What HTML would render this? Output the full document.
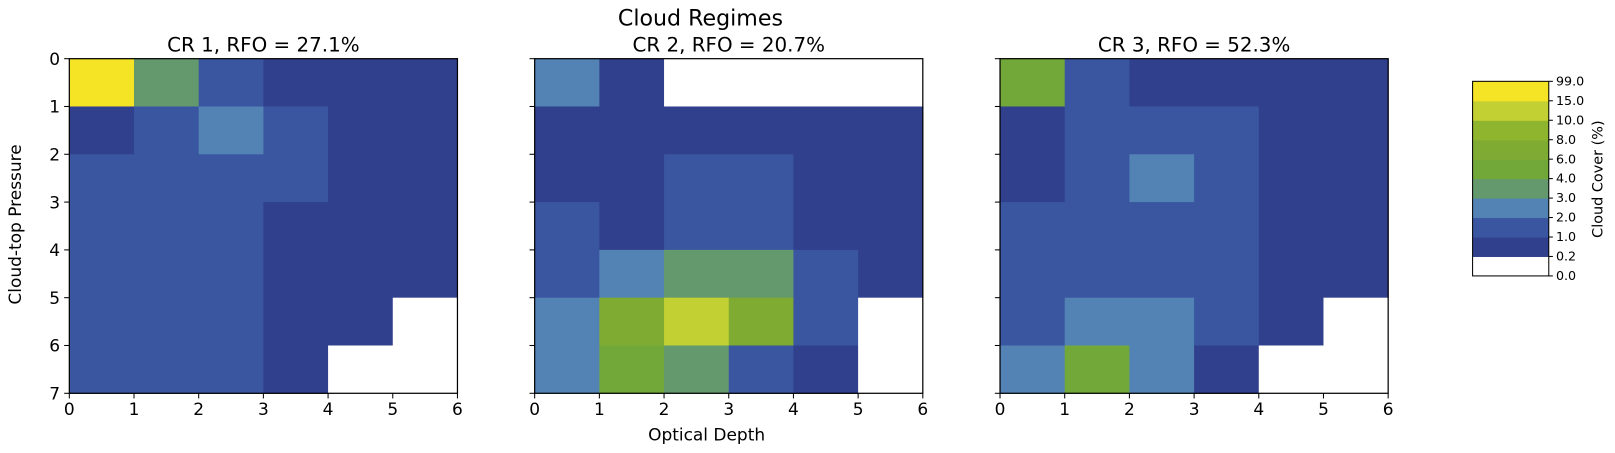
<!DOCTYPE html>
<html><head><meta charset="utf-8"><style>
body{margin:0;background:#fff;}
svg{display:block;font-family:"DejaVu Sans","Liberation Sans",sans-serif;}
</style></head><body>
<svg id="chart" width="1615" height="453" viewBox="0 0 1568 440">
<text x="680" y="25" font-size="21.5" text-anchor="middle" fill="#000">Cloud Regimes</text>
<text x="686" y="428" font-size="16.5" text-anchor="middle">Optical Depth</text>
<text transform="translate(20,218) rotate(-90)" font-size="16.5" text-anchor="middle">Cloud-top Pressure</text>
<g id="panels"></g>
<g id="cbar"></g>
</svg>
<script>
const titles=["CR 1, RFO = 27.1%","CR 2, RFO = 20.7%","CR 3, RFO = 52.3%"];
const levels=[0,0.2,1,2,3,4,6,8,10,15,99];
const levelLabels=["0.0","0.2","1.0","2.0","3.0","4.0","6.0","8.0","10.0","15.0","99.0"];
const colors=["#ffffff","#31408c","#3a56a0","#5383b5","#64996d","#72a83a","#80ab32","#8fb52e","#c3d033","#f5e325"];
const xTicks=[0,1,2,3,4,5,6];
const yTicks=[0,1,2,3,4,5,6,7];
const cr1=[[20,3.5,1.5,0.5,0.5,0.5],[0.5,1.5,2.5,1.5,0.5,0.5],[1.5,1.5,1.5,1.5,0.5,0.5],[1.5,1.5,1.5,0.5,0.5,0.5],[1.5,1.5,1.5,0.5,0.5,0.5],[1.5,1.5,1.5,0.5,0.5,0.1],[1.5,1.5,1.5,0.5,0.1,0.1]];
const cr2=[[2.5,0.5,0.1,0.1,0.1,0.1],[0.5,0.5,0.5,0.5,0.5,0.5],[0.5,0.5,1.5,1.5,0.5,0.5],[1.5,0.5,1.5,1.5,0.5,0.5],[1.5,2.5,3.5,3.5,1.5,0.5],[2.5,7,12,7,1.5,0.1],[2.5,5,3.5,1.5,0.5,0.1]];
const cr3=[[5,1.5,0.5,0.5,0.5,0.5],[0.5,1.5,1.5,1.5,0.5,0.5],[0.5,1.5,2.5,1.5,0.5,0.5],[1.5,1.5,1.5,1.5,0.5,0.5],[1.5,1.5,1.5,1.5,0.5,0.5],[1.5,2.5,2.5,1.5,0.5,0.1],[2.5,5,2.5,0.5,0.1,0.1]];
const grids=[cr1,cr2,cr3];
const NS="http://www.w3.org/2000/svg";
const px0=[67,519,971], pw=377, py0=57, ph=325;
function col(v){for(let i=levels.length-2;i>=0;i--){if(v>=levels[i])return colors[i];}return colors[0];}
function mk(t,a,p){const e=document.createElementNS(NS,t);for(const k in a)e.setAttribute(k,a[k]);p.appendChild(e);return e;}
const G=document.getElementById('panels');
grids.forEach((g,pi)=>{
 const x0=px0[pi];
 const xs=v=>x0+v/6*pw, ys=v=>py0+v/7*ph;
 const grp=mk('g',{},G);
 
 
 const t=mk('text',{x:x0+pw/2,y:50,'font-size':19.3,'text-anchor':'middle'},grp);t.textContent=titles[pi];
 
 
 g.forEach((row,r)=>row.forEach((v,c)=>{
  const x=xs(c),y=ys(r);
  const rc=mk('rect',{x:x,y:y,width:xs(c+1)-x+0.5,height:ys(r+1)-y+0.5,fill:col(v)},grp);
  
  
 }));
 const fr=mk('rect',{x:x0,y:py0,width:pw,height:ph,fill:'none',stroke:'#000','stroke-width':1.2},grp);
 
 
 xTicks.forEach(v=>{mk('line',{x1:xs(v),x2:xs(v),y1:py0+ph,y2:py0+ph+5,stroke:'#000'},grp);
  const tx=mk('text',{x:xs(v),y:py0+ph+21,'font-size':16.5,'text-anchor':'middle'},grp);tx.textContent=v;
  
  });
 yTicks.forEach(v=>{mk('line',{x1:x0-5,x2:x0,y1:ys(v),y2:ys(v),stroke:'#000'},grp);
  if(pi===0){const ty=mk('text',{x:x0-9,y:ys(v)+6,'font-size':16.5,'text-anchor':'end'},grp);ty.textContent=v;
  
  }});
});
const C=document.getElementById('cbar');
const cx=1430,cw=74,cy0=79,ch=189,n=colors.length,seg=ch/n;
colors.forEach((c,i)=>{const y=cy0+ch-(i+1)*seg;
 const r=mk('rect',{x:cx,y:y,width:cw,height:seg+0.5,fill:c},C);
 
 });
mk('rect',{x:cx,y:cy0,width:cw,height:ch,fill:'none',stroke:'#000','stroke-width':1},C);
levelLabels.forEach((l,i)=>{const y=cy0+ch-i*seg;
 mk('line',{x1:cx+cw,x2:cx+cw+4,y1:y,y2:y,stroke:'#000'},C);
 const t=mk('text',{x:cx+cw+7,y:y+4,'font-size':12.3},C);t.textContent=l;
 
 });
const cl=mk('text',{transform:'translate(1556,174) rotate(-90)','font-size':14,'text-anchor':'middle'},C);cl.textContent='Cloud Cover (%)';


</script>
</body></html>
